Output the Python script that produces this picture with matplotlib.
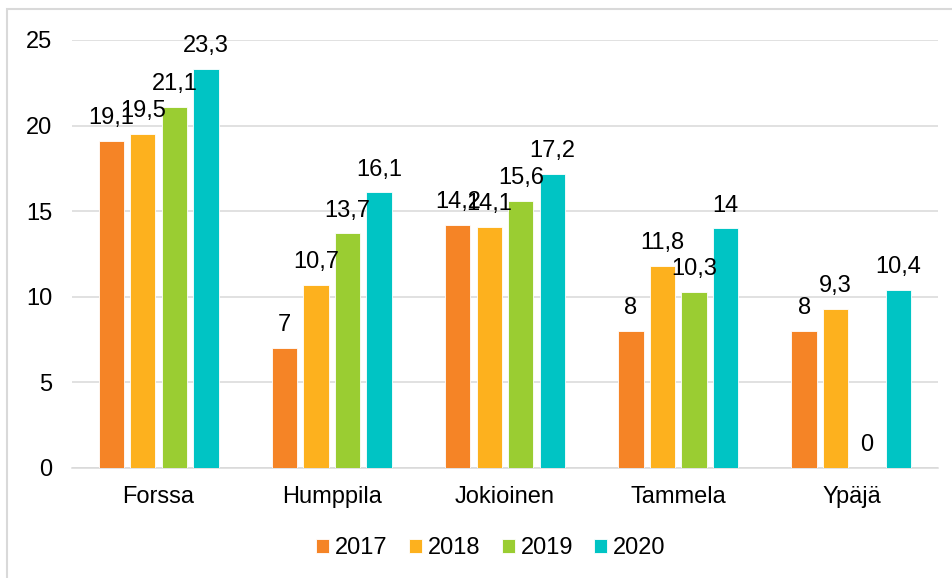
import numpy as np
import matplotlib
matplotlib.use("Agg")
import matplotlib.pyplot as plt
from matplotlib.patches import Rectangle

plt.rcParams['font.family'] = ['Liberation Sans', 'DejaVu Sans']

# data
towns = ["Forssa", "Humppila", "Jokioinen", "Tammela", "Ypäjä"]
years = ["2017", "2018", "2019", "2020"]
v2017 = [19.1, 7, 14.2, 8, 8]
v2018 = [19.5, 10.7, 14.1, 11.8, 9.3]
v2019 = [21.1, 13.7, 15.6, 10.3, 0]
v2020 = [23.3, 16.1, 17.2, 14, 10.4]
yticks = [0, 5, 10, 15, 20, 25]

colors = ["#F58426", "#FDB11E", "#9ACD32", "#00C4C4"]
series = [v2017, v2018, v2019, v2020]
fs = 17

fig = plt.figure(figsize=(9.53, 5.78), dpi=100)
ax = fig.add_axes([72 / 953, 1 - 468 / 578, (938 - 72) / 953, (468 - 40) / 578])

x = np.arange(len(towns))
step = 0.182
width = 0.146


def fmt(v):
    s = f"{v:g}"
    return s.replace(".", ",")


for i, (vals, col, yr) in enumerate(zip(series, colors, years)):
    pos = x + (i - 1.5) * step
    ax.bar(pos, vals, width=width, color=col, edgecolor="white",
           linewidth=0.6, label=yr, zorder=3)
    for xp, v in zip(pos, vals):
        ax.annotate(fmt(v), (xp, v), xytext=(0, 12), textcoords="offset points",
                    ha="center", va="baseline", fontsize=fs, color="black",
                    zorder=4)

ax.set_xlim(-0.5, len(towns) - 0.5)
ax.set_ylim(0, 25)
ax.set_yticks(yticks)
ax.set_yticklabels([str(t) for t in yticks])
ax.set_xticks(x)
ax.set_xticklabels(towns)
ax.tick_params(axis="both", length=0, labelsize=fs, colors="black")
ax.tick_params(axis="y", pad=14)
ax.tick_params(axis="x", pad=13)
ax.yaxis.grid(True, color="#D9D9D9", linewidth=1.1, zorder=0)
ax.set_axisbelow(True)
for s in ["top", "right", "left"]:
    ax.spines[s].set_visible(False)
ax.spines["bottom"].set_color("#D9D9D9")
ax.spines["bottom"].set_linewidth(1.1)

fig.legend(loc="center", bbox_to_anchor=(491 / 953, 30 / 578), ncol=4,
           frameon=False, fontsize=fs, handlelength=0.55, handleheight=0.55,
           handletextpad=0.25, columnspacing=0.9)

# chart area border
fig.patches.append(Rectangle((7 / 953, -0.1), 1.2, 1 - 9 / 578 + 0.1,
                             transform=fig.transFigure, fill=False,
                             edgecolor="#D9D9D9", linewidth=1.5))

fig.savefig("out.png", dpi=100)
